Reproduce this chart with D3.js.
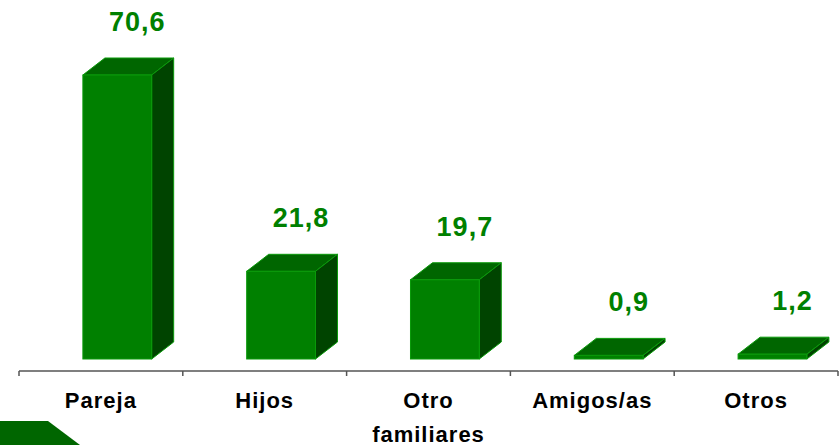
<!DOCTYPE html>
<html>
<head>
  <meta charset="utf-8">
  <title>Convivencia</title>
  <style>
    body { margin: 0; background: #fff; }
    .cat { font: bold 22px "Liberation Sans", Arial, sans-serif; letter-spacing: 1px; fill: #000; }
    .val { font: bold 27px "Liberation Sans", Arial, sans-serif; letter-spacing: 1px; fill: #008000; }
    .axis line, .axis path { stroke: #555; stroke-width: 1.5px; }
  </style>
</head>
<body>
  <div id="chart"></div>

  <script src="https://cdn.jsdelivr.net/npm/d3@7/dist/d3.min.js"></script>
  <script>
    // chart data
    var categories = ["Pareja", "Hijos", "Otro familiares", "Amigos/as", "Otros"];
    var values = [70.6, 21.8, 19.7, 0.9, 1.2];
    var valueLabels = ["70,6", "21,8", "19,7", "0,9", "1,2"];
    var categoryLines = [["Pareja"], ["Hijos"], ["Otro", "familiares"], ["Amigos/as"], ["Otros"]];

    var width = 840, height = 445;
    var baseY = 359, axisY = 371;
    var depthX = 22, depthY = 17;

    var svg = d3.select("#chart").append("svg")
      .attr("width", width)
      .attr("height", height);

    var x = d3.scaleBand()
      .domain(categories)
      .range([19, 838])
      .padding(0);

    var y = d3.scaleLinear()
      .domain([0, 70.6])
      .range([baseY, 75]);

    var bw = x.bandwidth();
    var frontOffset = bw * 0.39;
    var frontWidth = bw * 0.42;

    var data = categories.map(function(c, i) {
      return { cat: c, value: values[i], label: valueLabels[i], lines: categoryLines[i] };
    });

    // bars (front, top, side)
    var bars = svg.selectAll("g.bar").data(data).enter()
      .append("g")
      .attr("class", "bar");

    bars.append("path")
      .attr("fill", "#006600")
      .attr("stroke", "#0a9a0a")
      .attr("stroke-width", 1)
      .attr("d", function(d) {
        var x0 = x(d.cat) + frontOffset, x1 = x0 + frontWidth, t = y(d.value);
        return "M" + x0 + "," + t + "L" + (x0 + depthX) + "," + (t - depthY) +
          "L" + (x1 + depthX) + "," + (t - depthY) + "L" + x1 + "," + t + "Z";
      });

    bars.append("path")
      .attr("fill", "#004400")
      .attr("stroke", "#0a9a0a")
      .attr("stroke-width", 1)
      .attr("d", function(d) {
        var x1 = x(d.cat) + frontOffset + frontWidth, t = y(d.value);
        return "M" + x1 + "," + t + "L" + (x1 + depthX) + "," + (t - depthY) +
          "L" + (x1 + depthX) + "," + (baseY - depthY) + "L" + x1 + "," + baseY + "Z";
      });

    bars.append("rect")
      .attr("fill", "#008000")
      .attr("stroke", "#0a9a0a")
      .attr("stroke-width", 1)
      .attr("x", function(d) { return x(d.cat) + frontOffset; })
      .attr("y", function(d) { return y(d.value); })
      .attr("width", frontWidth)
      .attr("height", function(d) { return baseY - y(d.value); });

    // value labels
    svg.selectAll("text.val").data(data).enter()
      .append("text")
      .attr("class", "val")
      .attr("text-anchor", "middle")
      .attr("x", function(d) { return x(d.cat) + frontOffset + frontWidth / 2 + depthX - 2; })
      .attr("y", function(d) { return y(d.value) - depthY - 27; })
      .text(function(d) { return d.label; });

    // axis
    var axis = svg.append("g").attr("class", "axis");
    axis.append("line")
      .attr("x1", x.range()[0]).attr("x2", x.range()[1])
      .attr("y1", axisY).attr("y2", axisY);
    var tickPos = categories.map(function(c) { return x(c); }).concat([x.range()[1]]);
    axis.selectAll("line.tick").data(tickPos).enter()
      .append("line")
      .attr("class", "tick")
      .attr("x1", function(d) { return d; }).attr("x2", function(d) { return d; })
      .attr("y1", axisY).attr("y2", axisY + 5);

    // category labels
    var cat = svg.selectAll("text.cat").data(data).enter()
      .append("text")
      .attr("class", "cat")
      .attr("text-anchor", "middle")
      .attr("x", function(d) { return x(d.cat) + bw / 2; })
      .attr("y", 408);
    cat.selectAll("tspan").data(function(d) { return d.lines; }).enter()
      .append("tspan")
      .attr("x", function() { var p = d3.select(this.parentNode).datum(); return x(p.cat) + bw / 2; })
      .attr("dy", function(d, i) { return i === 0 ? 0 : 34; })
      .text(function(d) { return d; });

    // corner decoration
    svg.append("path")
      .attr("fill", "#006600")
      .attr("d", "M0,421L48,421L80,445L0,445Z");
  </script>
</body>
</html>
